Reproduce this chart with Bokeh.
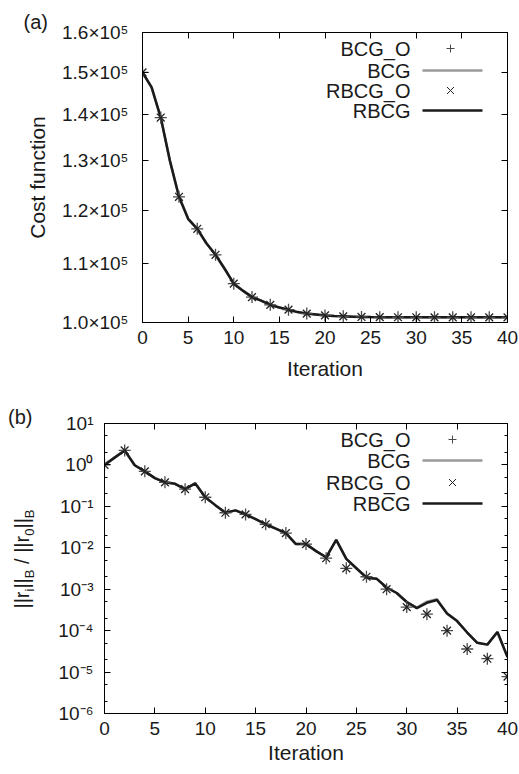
from bokeh.plotting import figure
from bokeh.layouts import column, row
from bokeh.models import (FixedTicker, LinearAxis, LogAxis, CustomJSTickFormatter,
                          Label, Arrow, Range1d, Div)
from bokeh.embed import file_html
from bokeh.resources import INLINE

FONT = "Liberation Sans"
TXT = "#1a1a1a"

# ---------------- data ----------------
iterations = list(range(41))
marker_iterations = list(range(0, 41, 2))

cost_bcg = [150000, 146400, 139400, 130000, 122600, 118300, 116400, 113700, 111600, 109100,
            106500, 105300, 104200, 103600, 102900, 102450, 102100, 101700, 101450, 101300,
            101150, 101050, 101000, 100950, 100900, 100880, 100870, 100860, 100855, 100850,
            100848, 100846, 100845, 100844, 100843, 100842, 100841, 100840, 100840, 100840, 100840]
cost_rbcg = [150000, 146400, 139400, 130000, 122600, 118300, 116400, 113700, 111600, 109100,
             106500, 105300, 104200, 103600, 102900, 102450, 102100, 101700, 101450, 101300,
             101150, 101050, 101000, 100950, 100900, 100880, 100870, 100860, 100855, 100850,
             100848, 100846, 100845, 100844, 100843, 100842, 100841, 100840, 100840, 100840, 100840]
cost_bcg_o = [150000, 139400, 122600, 116400, 111600, 106500, 104200, 102900, 102100, 101450, 101150,
              101000, 100900, 100870, 100855, 100848, 100845, 100843, 100841, 100840, 100840]
cost_rbcg_o = [150000, 139400, 122600, 116400, 111600, 106500, 104200, 102900, 102100, 101450, 101150,
               101000, 100900, 100870, 100855, 100848, 100845, 100843, 100841, 100840, 100840]

res_bcg = [1.0, 1.5, 2.24, 0.98, 0.70, 0.48, 0.38, 0.35, 0.26, 0.36,
           0.166, 0.107, 0.070, 0.080, 0.064, 0.049, 0.037, 0.029, 0.0226, 0.0123,
           0.0123, 0.0083, 0.0059, 0.0155, 0.0054, 0.0032, 0.0019, 0.0018, 0.0011, 8.1e-4,
           4.9e-4, 3.6e-4, 5.0e-4, 5.7e-4, 2.6e-4, 1.7e-4, 9.0e-5, 5.1e-5, 4.6e-5, 9.3e-5, 2.3e-5]
res_rbcg = [1.0, 1.5, 2.24, 0.98, 0.70, 0.48, 0.38, 0.35, 0.26, 0.36,
            0.166, 0.107, 0.070, 0.080, 0.064, 0.049, 0.037, 0.029, 0.0226, 0.0123,
            0.0123, 0.0083, 0.0059, 0.0155, 0.0054, 0.0032, 0.0019, 0.0018, 0.0011, 8.1e-4,
            4.9e-4, 3.5e-4, 4.7e-4, 5.5e-4, 2.6e-4, 1.7e-4, 9.0e-5, 5.1e-5, 4.6e-5, 9.3e-5, 2.3e-5]
res_bcg_o = [1.0, 2.24, 0.70, 0.38, 0.26, 0.166, 0.070, 0.064, 0.037, 0.0226, 0.0123,
             0.0056, 0.0032, 0.0020, 0.0010, 3.7e-4, 2.5e-4, 1.0e-4, 3.6e-5, 2.1e-5, 7.8e-6]
res_rbcg_o = [1.0, 2.24, 0.70, 0.38, 0.26, 0.166, 0.070, 0.064, 0.037, 0.0226, 0.0123,
              0.0056, 0.0032, 0.0020, 0.0010, 3.7e-4, 2.5e-4, 1.0e-4, 3.6e-5, 2.1e-5, 7.8e-6]

x_ticks = [0, 5, 10, 15, 20, 25, 30, 35, 40]
x_tick_labels = ["0", "5", "10", "15", "20", "25", "30", "35", "40"]
cost_ticks = [100000, 110000, 120000, 130000, 140000, 150000, 160000]
cost_tick_labels = ["1.0×10⁵", "1.1×10⁵", "1.2×10⁵", "1.3×10⁵", "1.4×10⁵", "1.5×10⁵", "1.6×10⁵"]
res_ticks = [1e-6, 1e-5, 1e-4, 1e-3, 1e-2, 1e-1, 1e0, 1e1]
res_tick_labels = ["10⁻⁶", "10⁻⁵", "10⁻⁴", "10⁻³", "10⁻²", "10⁻¹", "10⁰", "10¹"]
res_minor_ticks = [2e-6, 5e-6, 2e-5, 5e-5, 2e-4, 5e-4, 2e-3, 5e-3, 2e-2, 5e-2, 2e-1, 5e-1, 2e0, 5e0]
legend_labels = ["BCG_O", "BCG", "RBCG_O", "RBCG"]

BCG_COLOR = "#9a9a9a"
RBCG_COLOR = "#1a1a1a"
PLUS_COLOR = "#4a4a4a"
X_COLOR = "#222222"


def fmt(tick_list, label_list, log=False):
    return CustomJSTickFormatter(args=dict(tk=tick_list, lb=label_list, lg=log), code="""
        let best = 0, bd = Infinity;
        for (let i = 0; i < tk.length; i++) {
            const d = lg ? Math.abs(Math.log(tick) - Math.log(tk[i])) : Math.abs(tick - tk[i]);
            if (d < bd) { bd = d; best = i; }
        }
        return lb[best];
    """)


def style_axis(ax, label_size="19px"):
    ax.major_label_text_font = FONT
    ax.major_label_text_font_size = label_size
    ax.major_label_text_color = TXT
    ax.axis_label_text_font = FONT
    ax.axis_label_text_font_size = "21px"
    ax.axis_label_text_font_style = "normal"
    ax.axis_label_text_color = TXT
    ax.major_tick_in = 6
    ax.major_tick_out = 0
    ax.minor_tick_in = 3
    ax.minor_tick_out = 0
    ax.axis_line_color = "black"
    ax.major_tick_line_color = "black"
    ax.minor_tick_line_color = "black"


def mirror(p, side, cls, ticker):
    ax = cls(ticker=ticker, major_label_text_font_size="1px", major_label_text_color=None,
             major_label_standoff=0,
             major_tick_in=6, major_tick_out=0, minor_tick_in=3, minor_tick_out=0,
             axis_line_color="black", major_tick_line_color="black", minor_tick_line_color="black")
    p.add_layout(ax, side)


def seg(p, x0, y0, x1, y1, color, width):
    p.add_layout(Arrow(x_start=x0, y_start=y0, x_end=x1, y_end=y1,
                       start_units="screen", end_units="screen", end=None,
                       line_color=color, line_width=width))


def add_legend(p, x_text, x_l0, x_l1, x_mk, rows):
    for lab, y in zip(legend_labels, rows):
        p.add_layout(Label(x=x_text, y=y, x_units="screen", y_units="screen", text=lab,
                           text_align="right", text_baseline="middle", text_font=FONT,
                           text_font_size="20px", text_color=TXT))
    y = rows[0]
    seg(p, x_mk - 4, y, x_mk + 4, y, PLUS_COLOR, 1)
    seg(p, x_mk, y - 4, x_mk, y + 4, PLUS_COLOR, 1)
    y = rows[1]
    seg(p, x_l0, y, x_l1, y, BCG_COLOR, 2.5)
    y = rows[2]
    seg(p, x_mk - 3.5, y - 3.5, x_mk + 3.5, y + 3.5, X_COLOR, 1)
    seg(p, x_mk - 3.5, y + 3.5, x_mk + 3.5, y - 3.5, X_COLOR, 1)
    y = rows[3]
    seg(p, x_l0, y, x_l1, y, RBCG_COLOR, 2.5)


def base_fig(width, height, borders, y_range):
    p = figure(width=width, height=height, y_axis_type="log", output_backend="svg",
               toolbar_location=None, x_range=Range1d(0, 40), y_range=y_range,
               min_border_left=borders[0], min_border_right=borders[1],
               min_border_top=borders[2], min_border_bottom=borders[3])
    p.xgrid.visible = False
    p.ygrid.visible = False
    p.outline_line_color = "black"
    p.outline_line_width = 1
    p.background_fill_color = "white"
    p.border_fill_color = "white"
    return p


def style_title(p, tag, offset):
    p.title.text = tag
    p.title.align = "left"
    p.title.offset = offset
    p.title.standoff = 0
    p.title.text_font = FONT
    p.title.text_font_size = "20px"
    p.title.text_font_style = "normal"
    p.title.text_color = TXT


# ---------------- panel (a) ----------------
p1 = base_fig(519, 385, (142, 12, 32, 63), Range1d(100000, 160000))
style_title(p1, "(a)", -119)
p1.xaxis.ticker = FixedTicker(ticks=x_ticks, minor_ticks=[])
p1.xaxis.formatter = fmt(x_ticks, x_tick_labels)
p1.yaxis.ticker = FixedTicker(ticks=cost_ticks, minor_ticks=[])
p1.yaxis.formatter = fmt(cost_ticks, cost_tick_labels, True)
style_axis(p1.xaxis[0])
style_axis(p1.yaxis[0])
p1.xaxis.axis_label = "Iteration"
p1.yaxis.axis_label = "Cost function"
p1.xaxis.major_label_standoff = 8
p1.xaxis.axis_label_standoff = 10
p1.yaxis.major_label_standoff = 14
p1.yaxis.axis_label_standoff = 10
mirror(p1, "above", LinearAxis, FixedTicker(ticks=x_ticks, minor_ticks=[]))
mirror(p1, "right", LogAxis, FixedTicker(ticks=cost_ticks, minor_ticks=[]))

p1.line(iterations, cost_bcg, line_color=BCG_COLOR, line_width=2.5)
p1.line(iterations, cost_rbcg, line_color=RBCG_COLOR, line_width=2.5)
p1.scatter(marker_iterations, cost_bcg_o, marker="cross", size=12, line_color=PLUS_COLOR, line_width=1.3)
p1.scatter(marker_iterations, cost_rbcg_o, marker="x", size=11, line_color=X_COLOR, line_width=1.3)

add_legend(p1, 268, 280, 340, 308, [274, 252, 232, 212])

# ---------------- panel (b) ----------------
LABEL_W = 40
P2_H = 388
p2 = base_fig(519 - LABEL_W, P2_H, (104 - LABEL_W, 12, 38, 60), Range1d(1e-6, 1e1))
p2.title.visible = False
p2.xaxis.ticker = FixedTicker(ticks=x_ticks, minor_ticks=[])
p2.xaxis.formatter = fmt(x_ticks, x_tick_labels)
p2.yaxis.ticker = FixedTicker(ticks=res_ticks, minor_ticks=res_minor_ticks)
p2.yaxis.formatter = fmt(res_ticks, res_tick_labels, True)
style_axis(p2.xaxis[0])
style_axis(p2.yaxis[0])
p2.xaxis.axis_label = "Iteration"
p2.xaxis.major_label_standoff = 8
p2.xaxis.axis_label_standoff = 3
p2.yaxis.major_label_standoff = 11
mirror(p2, "above", LinearAxis, FixedTicker(ticks=x_ticks, minor_ticks=[]))
mirror(p2, "right", LogAxis, FixedTicker(ticks=res_ticks, minor_ticks=res_minor_ticks))

p2.line(iterations, res_bcg, line_color=BCG_COLOR, line_width=2.5)
p2.line(iterations, res_rbcg, line_color=RBCG_COLOR, line_width=2.5)
p2.scatter(marker_iterations, res_bcg_o, marker="cross", size=12, line_color=PLUS_COLOR, line_width=1.3)
p2.scatter(marker_iterations, res_rbcg_o, marker="x", size=11, line_color=X_COLOR, line_width=1.3)

add_legend(p2, 306, 318, 378, 348, [274, 253, 231, 210])

# panel tag "(b)" and y label of panel (b) with real subscripts, as HTML text
sub = '<span style="font-size:13px;position:relative;top:5px;">{}</span>'
ylabel_html = ("||r" + sub.format("i") + "||" + sub.format("B") + " / ||r" + sub.format("0")
               + "||" + sub.format("B"))
text_style = f"white-space:nowrap;font-family:'{FONT}';font-size:20px;line-height:1;color:{TXT};"
div_html = (
    f'<div style="position:relative;width:{LABEL_W}px;height:{P2_H}px;">'
    f'<div style="position:absolute;left:8px;top:22px;{text_style}">(b)</div>'
    f'<div style="position:absolute;left:22px;top:174px;transform:translate(-50%,-50%) rotate(-90deg);'
    f'{text_style}">{ylabel_html}</div></div>'
)
ylabel_div = Div(text=div_html, width=LABEL_W, height=P2_H, margin=(0, 0, 0, 0))

layout = column(p1, row(ylabel_div, p2, spacing=0), spacing=0)
open("out.html", "w").write(file_html(layout, INLINE))
